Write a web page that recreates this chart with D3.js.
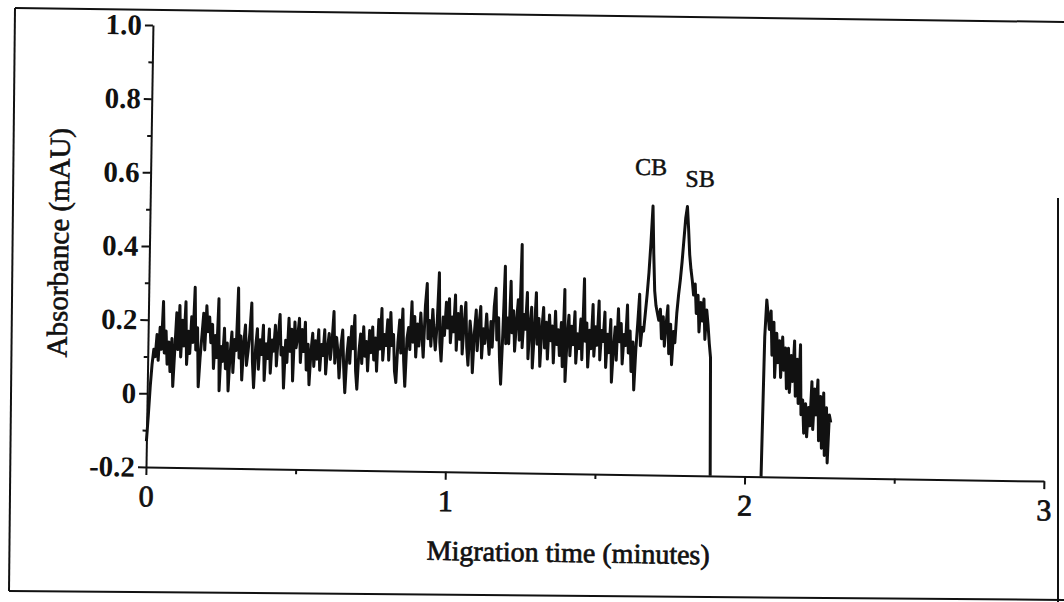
<!DOCTYPE html>
<html><head><meta charset="utf-8">
<script src="https://cdn.jsdelivr.net/npm/d3@7"></script>
<style>
body{margin:0;background:#fff}
svg{display:block}
text{font-family:"Liberation Serif","Times New Roman",serif;fill:#111}
</style>
</head><body><svg id="chart" width="1064" height="602"></svg>
<script>
// ---- data ----
const xTicks = [0, 1, 2, 3];
const xMinorTicks = [0.5, 1.5, 2.5];
const yTicks = [-0.2, 0, 0.2, 0.4, 0.6, 0.8, 1.0];
const yTickLabels = ["-0.2", "0", "0.2", "0.4", "0.6", "0.8", "1.0"];
const yMinorTicks = [-0.1, 0.1, 0.3, 0.5, 0.7, 0.9];
const xTitle = "Migration time (minutes)";
const yTitle = "Absorbance (mAU)";
const sampleStep = 0.005; // minutes between detector readings
// trace before the gap (absorbance, mAU), starting at 0 min
const traceAStart = 0;
const traceA = [
 -0.13,-0.06,0.02,0.08,0.12,0.10,0.16,0.09,0.18,0.12,0.25,0.11,0.17,0.08,0.14,0.06,0.15,0.02,0.12,0.22,
 0.12,0.24,0.10,0.20,0.13,0.25,0.08,0.17,0.11,0.21,0.14,0.29,0.12,0.18,0.02,0.10,0.16,0.22,0.12,0.24,
 0.17,0.21,0.14,0.19,0.07,0.16,0.10,0.26,0.01,0.13,0.09,0.18,0.07,0.14,0.01,0.11,0.17,0.06,0.15,0.12,
 0.29,0.10,0.16,0.04,0.14,0.19,0.08,0.12,0.17,0.25,0.09,0.02,0.13,0.18,0.07,0.15,0.11,0.19,0.04,0.14,
 0.10,0.18,0.06,0.15,0.12,0.19,0.08,0.16,0.22,0.11,0.13,0.02,0.15,0.09,0.21,0.12,0.18,0.04,0.20,0.13,
 0.16,0.21,0.09,0.18,0.12,0.20,0.07,0.14,0.03,0.12,0.17,0.08,0.15,0.10,0.18,0.07,0.14,0.11,0.18,0.06,
 0.13,0.17,0.10,0.15,0.23,0.09,0.16,0.12,0.05,0.14,0.18,0.08,0.01,0.11,0.16,0.09,0.19,0.13,0.22,0.07,
 0.02,0.12,0.17,0.09,0.19,0.11,0.15,0.07,0.18,0.12,0.19,0.10,0.16,0.07,0.21,0.13,0.24,0.10,0.17,0.14,
 0.21,0.10,0.23,0.14,0.17,0.07,0.04,0.15,0.21,0.12,0.24,0.10,0.03,0.16,0.19,0.13,0.26,0.15,0.22,0.11,
 0.20,0.14,0.23,0.17,0.11,0.25,0.31,0.16,0.21,0.14,0.24,0.18,0.13,0.20,0.34,0.15,0.10,0.22,0.17,0.26,
 0.19,0.27,0.15,0.22,0.18,0.28,0.13,0.23,0.16,0.25,0.12,0.20,0.26,0.14,0.09,0.21,0.17,0.07,0.18,0.24,
 0.13,0.20,0.25,0.11,0.19,0.15,0.23,0.17,0.12,0.21,0.14,0.25,0.30,0.16,0.22,0.11,0.04,0.18,0.36,0.15,
 0.22,0.15,0.32,0.18,0.24,0.13,0.21,0.27,0.16,0.42,0.14,0.23,0.19,0.29,0.11,0.20,0.25,0.085,0.18,0.29,
 0.15,0.22,0.09,0.19,0.25,0.14,0.21,0.11,0.23,0.16,0.20,0.10,0.24,0.15,0.19,0.12,0.21,0.09,0.30,0.05,
 0.17,0.23,0.12,0.20,0.15,0.24,0.10,0.18,0.14,0.22,0.11,0.33,0.16,0.21,0.09,0.19,0.14,0.26,0.12,0.20,
 0.15,0.27,0.11,0.19,0.16,0.24,0.09,0.18,0.13,0.22,0.05,0.14,0.20,0.11,0.25,0.16,0.21,0.10,0.18,0.15,
 0.26,0.13,0.19,0.08,0.16,0.03,0.14,0.21,0.29,0.15,0.20,0.19,0.24,0.29,0.35,0.43,0.53,0.40,0.30,0.26,
 0.24,0.22,0.25,0.17,0.23,0.15,0.21,0.26,0.13,0.21,0.10,0.19,0.16,0.24,0.29,0.33,0.38,0.44,0.50,0.53,
 0.47,0.40,0.36,0.33,0.29,0.32,0.24,0.29,0.19,0.27,0.22,0.28,0.17,0.25,0.21,0.16,0.12,-0.20
];
// trace after the gap
const traceBStart = 2.055;
const traceB = [
 -0.20,0.18,0.28,0.24,0.20,0.25,0.13,0.22,0.07,0.19,0.11,0.17,0.07,0.18,0.09,0.15,0.04,0.15,0.03,0.13,
 0.06,0.17,0.02,0.12,0.00,0.16,-0.03,0.01,-0.08,0.00,-0.09,-0.01,-0.06,0.06,-0.07,0.04,-0.03,0.065,-0.10,0.02,
 -0.12,0.03,-0.14,-0.01,-0.16,-0.03,-0.05
];
const peakLabels = ["CB", "SB"];
const peakLabelTimes = [1.672, 1.836];
const peakLabelValues = [0.614, 0.584];

// ---- drawing ----
const svg = d3.select("#chart");
const W = 1064, H = 602;
svg.append("rect").attr("width", W).attr("height", H).attr("fill", "#fff");

// scanned page frame
const frame = svg.append("g").attr("fill", "none").attr("stroke", "#111").attr("stroke-width", 2);
frame.append("path").attr("d", d3.line()([[15, 8], [1064, 22]]));
frame.append("path").attr("d", d3.line()([[15, 8], [9, 591]]));
frame.append("path").attr("d", d3.line()([[9, 591], [1064, 600]]));
frame.append("path").attr("d", d3.line()([[1058, 198], [1058, 602]]));

const origin = [146, 467];
const g = svg.append("g").attr("transform", `rotate(0.9,${origin[0]},${origin[1]})`);

const x = d3.scaleLinear().domain([0, 3]).range([146, 1044]);
const y = d3.scaleLinear().domain([-0.2, 1.0]).range([467, 25]);

// axes
const yAxis = g.append("g").attr("transform", `translate(${x(0)},0)`)
  .call(d3.axisLeft(y).tickValues(yTicks).tickFormat((d, i) => yTickLabels[i]).tickSize(8).tickSizeOuter(0).tickPadding(3));
const yMinor = g.append("g").attr("transform", `translate(${x(0)},0)`)
  .call(d3.axisLeft(y).tickValues(yMinorTicks).tickFormat("").tickSize(4).tickSizeOuter(0));
const xAxis = g.append("g").attr("transform", `translate(0,${y(-0.2)})`)
  .call(d3.axisBottom(x).tickValues(xTicks).tickFormat(d3.format("d")).tickSize(8).tickSizeOuter(0).tickPadding(10));
const xMinor = g.append("g").attr("transform", `translate(0,${y(-0.2)})`)
  .call(d3.axisBottom(x).tickValues(xMinorTicks).tickFormat("").tickSize(5).tickSizeOuter(0));
[yAxis, yMinor, xAxis, xMinor].forEach(a => {
  a.selectAll("path.domain").attr("stroke", "#111").attr("stroke-width", 2);
  a.selectAll(".tick line").attr("stroke", "#111").attr("stroke-width", 2);
});
yMinor.select("path.domain").remove();
xMinor.select("path.domain").remove();
yAxis.selectAll(".tick text").attr("font-size", 29).attr("font-family", "Liberation Serif")
  .attr("font-weight", "bold").attr("fill", "#111");
xAxis.selectAll(".tick text").attr("font-size", 30).attr("font-family", "Liberation Serif")
  .attr("font-weight", "normal").attr("fill", "#111").attr("stroke", "#111").attr("stroke-width", 0.8);

// titles
g.append("text").attr("x", 569.5).attr("y", 555.4).attr("text-anchor", "middle")
  .attr("font-size", 28).attr("stroke", "#111").attr("stroke-width", 0.7).text(xTitle);
g.append("text").attr("transform", "translate(56,244) rotate(-90)").attr("dy", "0.3em")
  .attr("text-anchor", "middle").attr("font-size", 29).attr("stroke", "#111").attr("stroke-width", 0.6).text(yTitle);

// trace
const line = d3.line().x(d => x(d[0])).y(d => y(d[1]));
const segA = traceA.map((v, i) => [traceAStart + i * sampleStep, v]);
const segB = traceB.map((v, i) => [traceBStart + i * sampleStep, v]);
[segA, segB].forEach(seg => {
  g.append("path").datum(seg).attr("d", line)
    .attr("fill", "none").attr("stroke", "#111").attr("stroke-width", 3)
    .attr("stroke-linejoin", "round");
});

// peak labels
g.selectAll("text.peak").data(peakLabels).enter().append("text").attr("class", "peak")
  .attr("x", (d, i) => x(peakLabelTimes[i])).attr("y", (d, i) => y(peakLabelValues[i]))
  .attr("text-anchor", "middle").attr("font-size", 24)
  .attr("stroke", "#111").attr("stroke-width", 0.5).text(d => d);
</script>
</body></html>
